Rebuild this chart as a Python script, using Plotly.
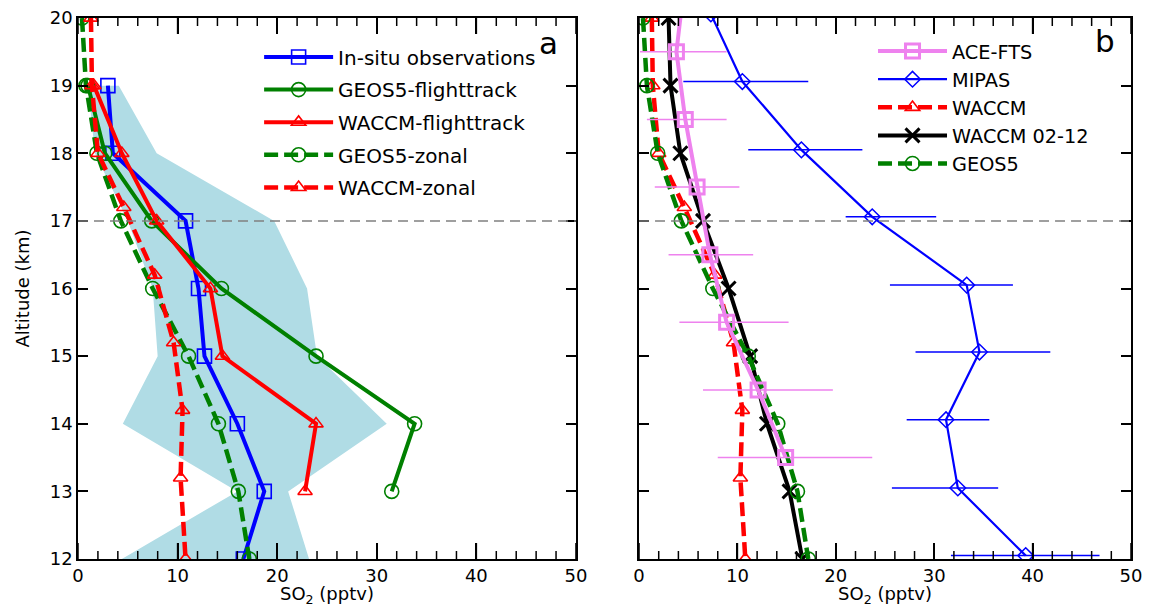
import plotly.graph_objects as go
from plotly.subplots import make_subplots

# ---------------- data (panel a) ----------------
alt_int = [20, 19, 18, 17, 16, 15, 14, 13, 12]

insitu_alt = [19, 18, 17, 16, 15, 14, 13, 12]
insitu = [3.0, 3.5, 10.8, 12.1, 12.7, 16.0, 18.7, 16.6]

geos_ft_alt = [19, 18, 17, 16, 15, 14, 13]
geos_ft = [1.0, 2.7, 7.4, 14.4, 23.9, 33.8, 31.5]

waccm_ft_alt = [19, 18, 17, 16, 15, 14, 13]
waccm_ft = [1.6, 4.4, 7.9, 13.3, 14.5, 23.9, 22.8]

geos_zonal = [0.4, 0.8, 1.9, 4.3, 7.5, 11.1, 14.1, 16.1, 17.2]

waccm_zonal_alt = [20, 19, 18, 17.2, 16.2, 15.2, 14.2, 13.2, 12.0]
waccm_zonal = [1.3, 1.4, 2.0, 4.6, 7.7, 9.6, 10.5, 10.3, 10.8]

# in-situ range (shaded)
range_alt = [19, 18, 17, 16, 15, 14, 13, 12]
range_low = [1.0, 1.7, 5.0, 7.5, 8.0, 4.5, 16.0, 4.4]
range_high = [4.1, 7.9, 19.7, 23.0, 24.0, 31.0, 21.1, 23.2]

# ---------------- data (panel b) ----------------
ace_alt = [20.5, 19.5, 18.5, 17.5, 16.5, 15.5, 14.5, 13.5]
ace = [4.6, 3.8, 4.7, 5.9, 7.2, 8.9, 12.1, 14.9]
ace_low = [4.6, 0.1, 0.8, 1.6, 3.0, 4.1, 6.5, 8.0]
ace_high = [4.6, 8.9, 8.9, 10.2, 11.6, 15.2, 19.7, 23.7]

mipas_alt = [20.06, 19.06, 18.05, 17.06, 16.05, 15.06, 14.06, 13.05, 12.05]
mipas = [7.3, 10.5, 16.5, 23.7, 33.3, 34.6, 31.2, 32.4, 39.3]
mipas_low = [7.3, 4.5, 11.1, 21.0, 25.5, 28.1, 27.2, 25.7, 31.7]
mipas_high = [7.3, 17.2, 22.7, 30.2, 38.0, 41.8, 35.6, 36.5, 46.8]

waccm_0212 = [3.0, 3.2, 4.2, 6.5, 9.1, 11.3, 13.0, 15.3, 16.6]

x_range = [0, 50]
y_range = [12, 20]
x_major_ticks = [0, 10, 20, 30, 40, 50]
x_minor_ticks = [v for v in range(0, 51, 2) if v % 10]

FONT = "DejaVu Sans"
DASH = "14px,6px"
PLOT_H = 541.0  # plot-area height in px (607 - 18 - 48)

fig = make_subplots(rows=1, cols=2, horizontal_spacing=0.06)

fig.add_trace(go.Scatter(
    x=range_low + range_high[::-1], y=range_alt + range_alt[::-1],
    fill="toself", fillcolor="#b0dce5", mode="lines", line=dict(width=0),
    showlegend=False, hoverinfo="skip"), row=1, col=1)

mk_line = 1.6
TRI = 12.5
fig.add_trace(go.Scatter(
    x=insitu, y=insitu_alt, name="In-situ observations", mode="lines+markers",
    line=dict(color="blue", width=4),
    marker=dict(symbol="square-open", size=14, color="blue", line=dict(width=mk_line)),
    legend="legend", legendgroup="a1"), row=1, col=1)
fig.add_trace(go.Scatter(
    x=geos_ft, y=geos_ft_alt, name="GEOS5-flighttrack", mode="lines+markers",
    line=dict(color="green", width=4),
    marker=dict(symbol="circle-open", size=14, color="green", line=dict(width=mk_line)),
    legend="legend", legendgroup="a2"), row=1, col=1)
fig.add_trace(go.Scatter(
    x=waccm_ft, y=waccm_ft_alt, name="WACCM-flighttrack", mode="lines+markers",
    line=dict(color="red", width=4),
    marker=dict(symbol="triangle-up-open", size=TRI, color="red", line=dict(width=mk_line)),
    legend="legend", legendgroup="a3"), row=1, col=1)
fig.add_trace(go.Scatter(
    x=geos_zonal, y=alt_int, name="GEOS5-zonal", mode="lines+markers",
    line=dict(color="green", width=4.5, dash=DASH),
    marker=dict(symbol="circle-open", size=14, color="green", line=dict(width=mk_line)),
    legend="legend", legendgroup="a4"), row=1, col=1)
fig.add_trace(go.Scatter(
    x=waccm_zonal, y=waccm_zonal_alt, name="WACCM-zonal", mode="lines+markers",
    line=dict(color="red", width=4.5, dash=DASH),
    marker=dict(symbol="triangle-up-open", size=TRI, color="red", line=dict(width=mk_line)),
    legend="legend", legendgroup="a5"), row=1, col=1)

fig.add_trace(go.Scatter(
    x=mipas, y=mipas_alt, name="MIPAS", mode="lines+markers",
    line=dict(color="blue", width=2.2),
    marker=dict(symbol="diamond-open", size=12, color="blue", line=dict(width=1.5)),
    error_x=dict(type="data", symmetric=False,
                 array=[h - v for h, v in zip(mipas_high, mipas)],
                 arrayminus=[v - l for v, l in zip(mipas, mipas_low)],
                 color="blue", thickness=1.5, width=0),
    legend="legend2", legendgroup="b2", legendrank=2), row=1, col=2)
fig.add_trace(go.Scatter(
    x=waccm_zonal, y=waccm_zonal_alt, name="WACCM", mode="lines+markers",
    line=dict(color="red", width=4.5, dash=DASH),
    marker=dict(symbol="triangle-up-open", size=TRI, color="red", line=dict(width=mk_line)),
    legend="legend2", legendgroup="b3", legendrank=3), row=1, col=2)
fig.add_trace(go.Scatter(
    x=waccm_0212, y=alt_int, name="WACCM 02-12", mode="lines+markers",
    line=dict(color="black", width=4),
    marker=dict(symbol="x-thin-open", size=14, color="black", line=dict(width=3, color="black")),
    legend="legend2", legendgroup="b4", legendrank=4), row=1, col=2)
fig.add_trace(go.Scatter(
    x=geos_zonal, y=alt_int, name="GEOS5", mode="lines+markers",
    line=dict(color="green", width=4.5, dash=DASH),
    marker=dict(symbol="circle-open", size=14, color="green", line=dict(width=mk_line)),
    legend="legend2", legendgroup="b5", legendrank=5), row=1, col=2)
fig.add_trace(go.Scatter(
    x=ace, y=ace_alt, name="ACE-FTS", mode="lines+markers",
    line=dict(color="violet", width=4),
    marker=dict(symbol="square-open", size=14, color="violet", line=dict(width=3)),
    error_x=dict(type="data", symmetric=False,
                 array=[h - v for h, v in zip(ace_high, ace)],
                 arrayminus=[v - l for v, l in zip(ace, ace_low)],
                 color="violet", thickness=1.5, width=0),
    legend="legend2", legendgroup="b1", legendrank=1), row=1, col=2)

axis_common = dict(showline=True, linecolor="black", linewidth=1.5, mirror="ticks",
                   ticks="inside", tickcolor="black", tickwidth=1.6,
                   showgrid=False, zeroline=False, automargin=False,
                   tickfont=dict(family=FONT, size=18, color="black"))

xtitle = dict(text="SO<sub>2</sub> (pptv)", font=dict(family=FONT, size=18, color="black"), standoff=0)

for c in (1, 2):
    fig.update_xaxes(range=x_range, tickvals=x_major_ticks, ticklen=16,
                     title=xtitle, row=1, col=c, **axis_common)
    fig.update_yaxes(range=y_range, tickmode="linear", tick0=12, dtick=1, ticklen=10,
                     row=1, col=c, **axis_common)
    xr = "x" if c == 1 else f"x{c}"
    yr = "y" if c == 1 else f"y{c}"
    fig.add_shape(type="line", xref=f"{xr} domain", yref=yr,
                  x0=0, x1=1, y0=17, y1=17, line=dict(color="gray", width=1.5, dash="10px,6px"),
                  layer="above")
    # x-axis tick marks, bottom and top edges, pointing inwards
    for ticks, length in ((x_major_ticks, 16), (x_minor_ticks, 8)):
        f = length / PLOT_H
        for v in ticks:
            for y0, y1 in ((0, f), (1 - f, 1)):
                fig.add_shape(type="line", xref=xr, yref=f"{yr} domain",
                              x0=v, x1=v, y0=y0, y1=y1,
                              line=dict(color="black", width=1.5), layer="above")

fig.update_yaxes(title=dict(text="Altitude (km)", font=dict(family=FONT, size=18, color="black")),
                 row=1, col=1)
fig.update_yaxes(showticklabels=False, row=1, col=2)

fig.update_xaxes(domain=[0, 0.4729], row=1, col=1)
fig.update_xaxes(domain=[0.5328, 1.0], row=1, col=2)

fig.add_annotation(text="a", xref="x domain", yref="y domain", x=0.944, y=0.99,
                   xanchor="center", yanchor="top",
                   showarrow=False, font=dict(family=FONT, size=31, color="black"))
fig.add_annotation(text="b", xref="x2 domain", yref="y2 domain", x=0.947, y=0.995,
                   xanchor="center", yanchor="top",
                   showarrow=False, font=dict(family=FONT, size=31, color="black"))

legend_common = dict(bgcolor="rgba(0,0,0,0)", traceorder="grouped", xanchor="left", yanchor="top",
                     itemclick=False, itemdoubleclick=False)
fig.update_layout(
    width=1154, height=607,
    margin=dict(l=78, r=23, t=18, b=48),
    plot_bgcolor="white", paper_bgcolor="white",
    font=dict(family=FONT, color="black"),
    legend=dict(x=0.172, y=0.964, tracegroupgap=3.6, itemwidth=69,
                font=dict(family=FONT, size=20, color="black"), **legend_common),
    legend2=dict(x=0.755, y=0.974, tracegroupgap=0, itemwidth=69,
                 font=dict(family=FONT, size=19.3, color="black"), **legend_common),
)

fig.write_html("out.html", config={"displayModeBar": False},
               post_script="document.body.style.margin='0';document.body.style.overflow='hidden';")
